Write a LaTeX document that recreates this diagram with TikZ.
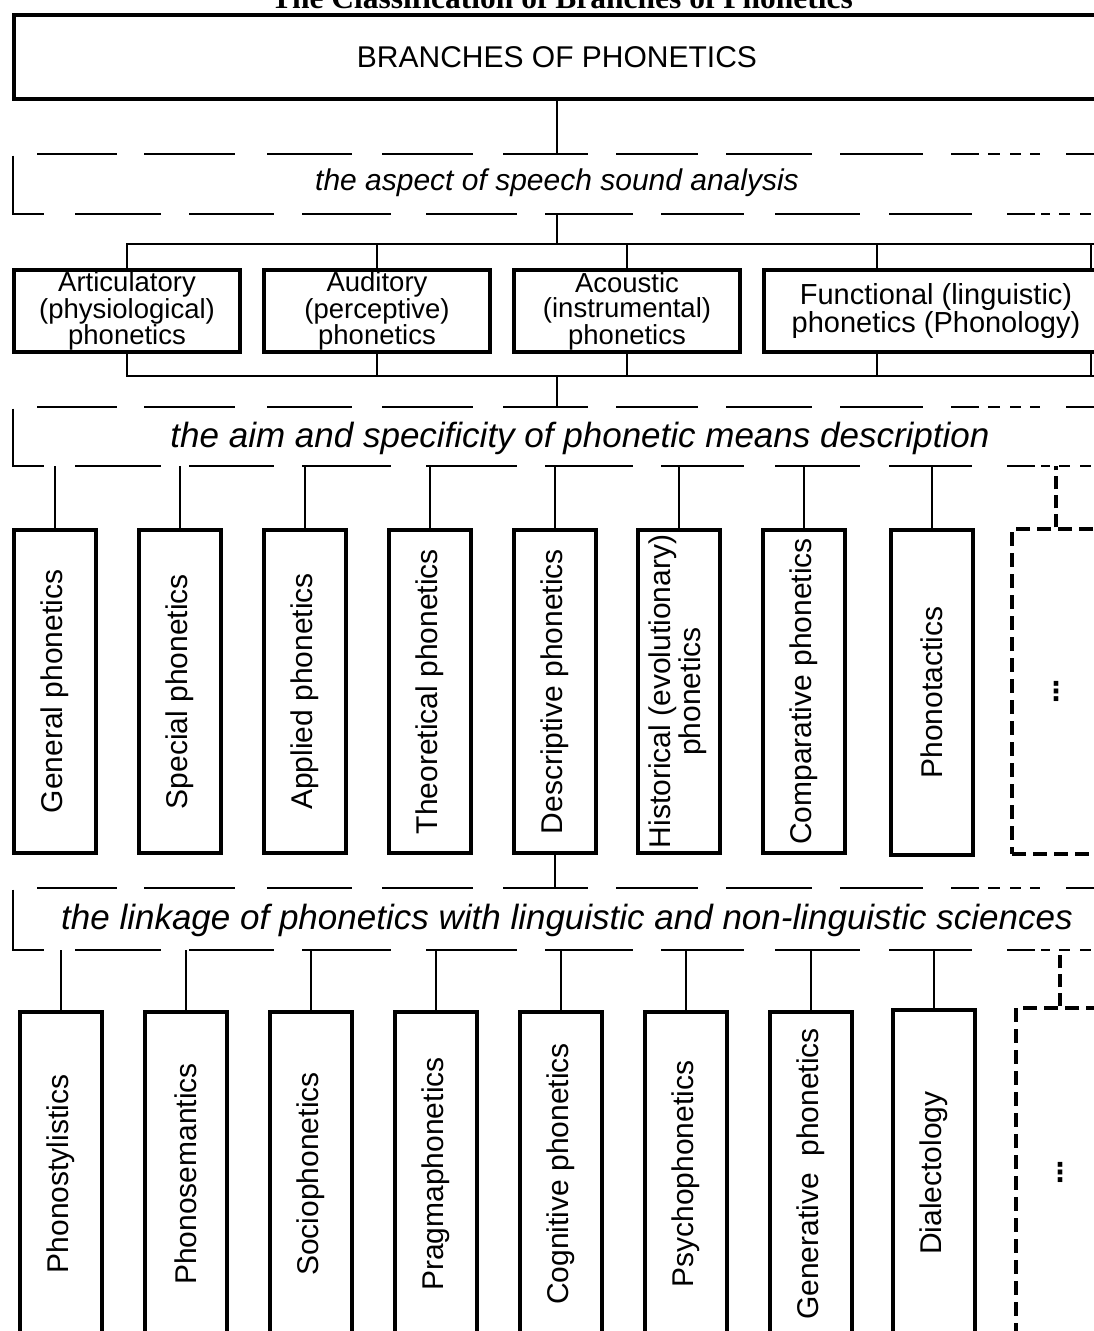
\documentclass[tikz,border=0pt]{standalone}
\usepackage{fontspec}
\setmainfont{Liberation Sans}
\newfontfamily\titlefont{Liberation Serif}
\newfontfamily\symfont{DejaVu Sans}
\newcommand{\fs}[2]{\fontsize{#1}{#2}\selectfont}
\newcommand{\bandlines}[2]{%
  \foreach \a/\b in {37/117,144/235,267/352,382/473,503/588,616/698,726/812,840/923,951/979,988/1000,1010/1021,1030/1040,1066/1100}
    \draw[bandline] (\a,#1) -- (\b,#1);
  \foreach \a/\b in {75/161,189/274,302/391,426/517,545/633,661/744,775/860,889/972,1007/1035,1041/1050,1059/1070,1080/1091}
    \draw[bandline] (\a,#2) -- (\b,#2);
  \draw[bandline] (13,#1+1.5) -- (13,#2) -- (44,#2);
}
\begin{document}
\begin{tikzpicture}[x=1pt,y=-1pt,
  bigbox/.style={draw, line width=4.5pt, minimum width=1086, minimum height=84, inner sep=0pt, font=\fs{30}{30}},
  midbox/.style={draw, line width=3.5pt, minimum height=82, inner sep=0pt, align=center, font=\fs{27.5}{25.5}},
  vbox/.style={draw, line width=4pt, minimum width=82, minimum height=323, inner sep=0pt, font=\fs{30}{29}},
  lowbox/.style={vbox, minimum height=324},
  dbox/.style={draw, line width=3.5pt, dash pattern=on 14pt off 7pt, minimum width=88, inner sep=0pt, font=\symfont\bfseries\fs{26}{26}},
  conn/.style={line width=2.2pt},
  dconn/.style={line width=3.5pt, dash pattern=on 13pt off 6pt},
  bandline/.style={line width=2.5pt},
  bandtext/.style={font=\itshape\fs{30}{30}, inner sep=0pt},
  bigbandtext/.style={font=\itshape\fs{35}{35}, inner sep=0pt},
]
\fill[white] (0,0) rectangle (1094,1331);
\useasboundingbox (0,0) rectangle (1094,1331);

% title
\node[font=\titlefont\bfseries\fs{31.5}{31.5}, anchor=base, inner sep=0pt] (title) at (562,8) {The Classification of Branches of Phonetics};

% root
\node[bigbox] (root) at (557,57) {BRANCHES OF PHONETICS};

% band 1
\bandlines{154}{214}
\node[bandtext] (b1) at (557,183) {the aspect of speech sound analysis};
\coordinate (b1t) at (557,154);
\coordinate (b1b) at (557,214);

% level 3 boxes
\node[midbox, minimum width=226] (a1) at (127,311) {Articulatory\\(physiological)\\phonetics};
\node[midbox, minimum width=226] (a2) at (377,311) {Auditory\\(perceptive)\\phonetics};
\node[midbox, minimum width=226] (a3) at (627,311) {Acoustic\\(instrumental)\\phonetics};
\node[midbox, minimum width=344, font=\fs{29}{28}] (a4) at (936,311) {Functional (linguistic)\\phonetics (Phonology)};

\coordinate (busA) at (1100,244);
\coordinate (busB) at (1100,376);
\coordinate (t4) at (877,270);
\coordinate (t5) at (1091,270);
\coordinate (u4) at (877,352);
\coordinate (u5) at (1091,352);

\draw[conn] (root.south) -- (root.south |- b1t);
\draw[conn] (b1b) -- (b1b |- busA);
\draw[conn] (a1.north) |- (busA);
\draw[conn] (a2.north) -- (a2.north |- busA);
\draw[conn] (a3.north) -- (a3.north |- busA);
\draw[conn] (t4) -- (t4 |- busA);
\draw[conn] (t5) -- (t5 |- busA);
\draw[conn] (a1.south) |- (busB);
\draw[conn] (a2.south) -- (a2.south |- busB);
\draw[conn] (a3.south) -- (a3.south |- busB);
\draw[conn] (u4) -- (u4 |- busB);
\draw[conn] (u5) -- (u5 |- busB);

% band 2
\bandlines{407}{466}
\node[bigbandtext] (b2) at (580,438) {the aim and specificity of phonetic means description};
\coordinate (b2t) at (557,407);
\coordinate (b2b) at (557,466);
\draw[conn] (b2t |- busB) -- (b2t);

% level 5 boxes
\node[vbox] (g1) at (55,691.5) {\rotatebox{90}{General phonetics}};
\node[vbox] (g2) at (180,691.5) {\rotatebox{90}{Special phonetics}};
\node[vbox] (g3) at (305,691.5) {\rotatebox{90}{Applied phonetics}};
\node[vbox] (g4) at (430,691.5) {\rotatebox{90}{Theoretical phonetics}};
\node[vbox] (g5) at (555,691.5) {\rotatebox{90}{Descriptive phonetics}};
\node[vbox] (g6) at (679,691.5) {\rotatebox{90}{\begin{tabular}{@{}c@{}}Historical (evolutionary)\\phonetics\end{tabular}}};
\node[vbox] (g7) at (804,691.5) {\rotatebox{90}{Comparative phonetics}};
\node[vbox, minimum height=325] (g8) at (932,692.5) {\rotatebox{90}{Phonotactics}};
\node[dbox, minimum height=325] (g9) at (1056,691.5) {⋮};

\foreach \n in {g1,g2,g3,g4,g5,g6,g7,g8}
  \draw[conn] (\n.north) -- (\n.north |- b2b);
\draw[dconn] (g9.north) -- (g9.north |- b2b);

% band 3
\bandlines{888}{950}
\node[bigbandtext] (b3) at (567,920) {the linkage of phonetics with linguistic and non-linguistic sciences};
\coordinate (b3t) at (557,888);
\coordinate (b3b) at (557,950);
\draw[conn] (g5.south) -- (g5.south |- b3t);

% level 6 boxes
\node[lowbox] (h1) at (61,1174) {\rotatebox{90}{Phonostylistics}};
\node[lowbox] (h2) at (186,1174) {\rotatebox{90}{Phonosemantics}};
\node[lowbox] (h3) at (311,1174) {\rotatebox{90}{Sociophonetics}};
\node[lowbox] (h4) at (436,1174) {\rotatebox{90}{Pragmaphonetics}};
\node[lowbox] (h5) at (561,1174) {\rotatebox{90}{Cognitive phonetics}};
\node[lowbox] (h6) at (686,1174) {\rotatebox{90}{Psychophonetics}};
\node[lowbox] (h7) at (811,1174) {\rotatebox{90}{Generative\ \ phonetics}};
\node[lowbox, minimum height=326] (h8) at (934,1173) {\rotatebox{90}{Dialectology}};
\node[dbox, minimum height=328] (h9) at (1060,1172) {⋮};

\foreach \n in {h1,h2,h3,h4,h5,h6,h7,h8}
  \draw[conn] (\n.north) -- (\n.north |- b3b);
\draw[dconn] (h9.north) -- (h9.north |- b3b);
\end{tikzpicture}
\end{document}
